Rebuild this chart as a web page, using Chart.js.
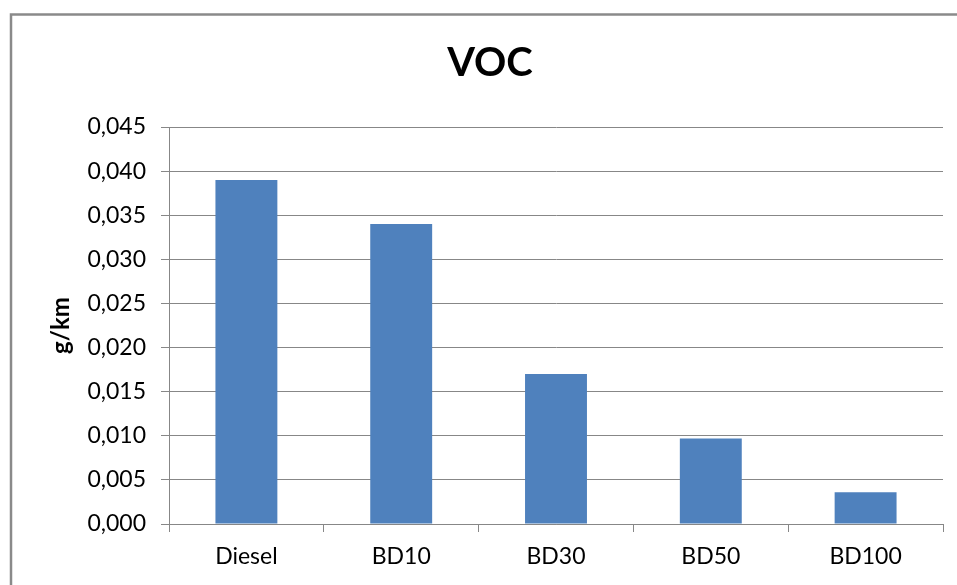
<!DOCTYPE html>
<html>
<head>
<meta charset="utf-8">
<script src="https://cdn.jsdelivr.net/npm/chart.js@4/dist/chart.umd.min.js"></script>
<style>
  html, body { margin: 0; padding: 0; background: #fff; }
  #wrap { width: 957px; height: 585px; position: relative; }
</style>
</head>
<body>
<div id="wrap"><canvas id="c" width="957" height="585"></canvas></div>
<script>
// Fuel blends and their VOC emissions (g/km)
const categories = ['Diesel', 'BD10', 'BD30', 'BD50', 'BD100'];
const vocValues = [0.039, 0.034, 0.017, 0.0097, 0.0036];
const yTicks = [0, 0.005, 0.010, 0.015, 0.020, 0.025, 0.030, 0.035, 0.040, 0.045];

const FONT = 'Lato, "Liberation Sans", sans-serif';
const GRID = '#878787';

// Outer frame drawn along the left and top edges
const framePlugin = {
  id: 'frame',
  beforeDraw(chart) {
    const ctx = chart.ctx;
    ctx.save();
    ctx.fillStyle = '#ffffff';
    ctx.fillRect(0, 0, chart.width, chart.height);
    ctx.strokeStyle = '#8a8a8a';
    ctx.lineWidth = 2.5;
    ctx.beginPath();
    ctx.moveTo(11, chart.height + 5);
    ctx.lineTo(11, 14.5);
    ctx.lineTo(chart.width + 5, 14.5);
    ctx.stroke();
    ctx.restore();
  }
};

new Chart(document.getElementById('c'), {
  type: 'bar',
  data: {
    labels: categories,
    datasets: [{
      label: 'VOC',
      data: vocValues,
      backgroundColor: '#4F81BD',
      borderWidth: 0,
      categoryPercentage: 1.0,
      barPercentage: 0.4
    }]
  },
  options: {
    responsive: false,
    animation: false,
    layout: { padding: { left: 37, right: 14, top: 0, bottom: 0 } },
    plugins: {
      legend: { display: false },
      tooltip: { enabled: false },
      title: {
        display: true,
        text: 'VOC',
        color: '#000',
        font: { family: FONT, size: 40, weight: 'bold', lineHeight: 1.2 },
        padding: { top: 39, bottom: 40 }
      }
    },
    scales: {
      x: {
        offset: true,
        grid: {
          offset: true,
          drawOnChartArea: false,
          drawTicks: true,
          tickLength: 8,
          color: GRID,
          lineWidth: 1
        },
        border: { display: true, color: GRID, width: 1 },
        ticks: {
          color: '#000',
          padding: 11,
          font: { family: FONT, size: 23 },
          maxRotation: 0
        },
        afterFit(scale) { scale.height = 61; }
      },
      y: {
        min: 0,
        max: 0.045,
        afterBuildTicks(scale) { scale.ticks = yTicks.map(v => ({ value: v })); },
        grid: {
          color: GRID,
          lineWidth: 1,
          drawTicks: true,
          tickLength: 8
        },
        border: { display: true, color: GRID, width: 1 },
        ticks: {
          color: '#000',
          padding: 15,
          font: { family: FONT, size: 23 },
          callback: v => Number(v).toFixed(3).replace('.', ',')
        },
        title: {
          display: true,
          text: 'g/km',
          color: '#000',
          font: { family: FONT, size: 24, weight: 'bold', lineHeight: 1.2 },
          padding: { top: 10, bottom: 0 }
        },
        afterFit(scale) { scale.width = 132; }
      }
    }
  },
  plugins: [framePlugin]
});
</script>
</body>
</html>
